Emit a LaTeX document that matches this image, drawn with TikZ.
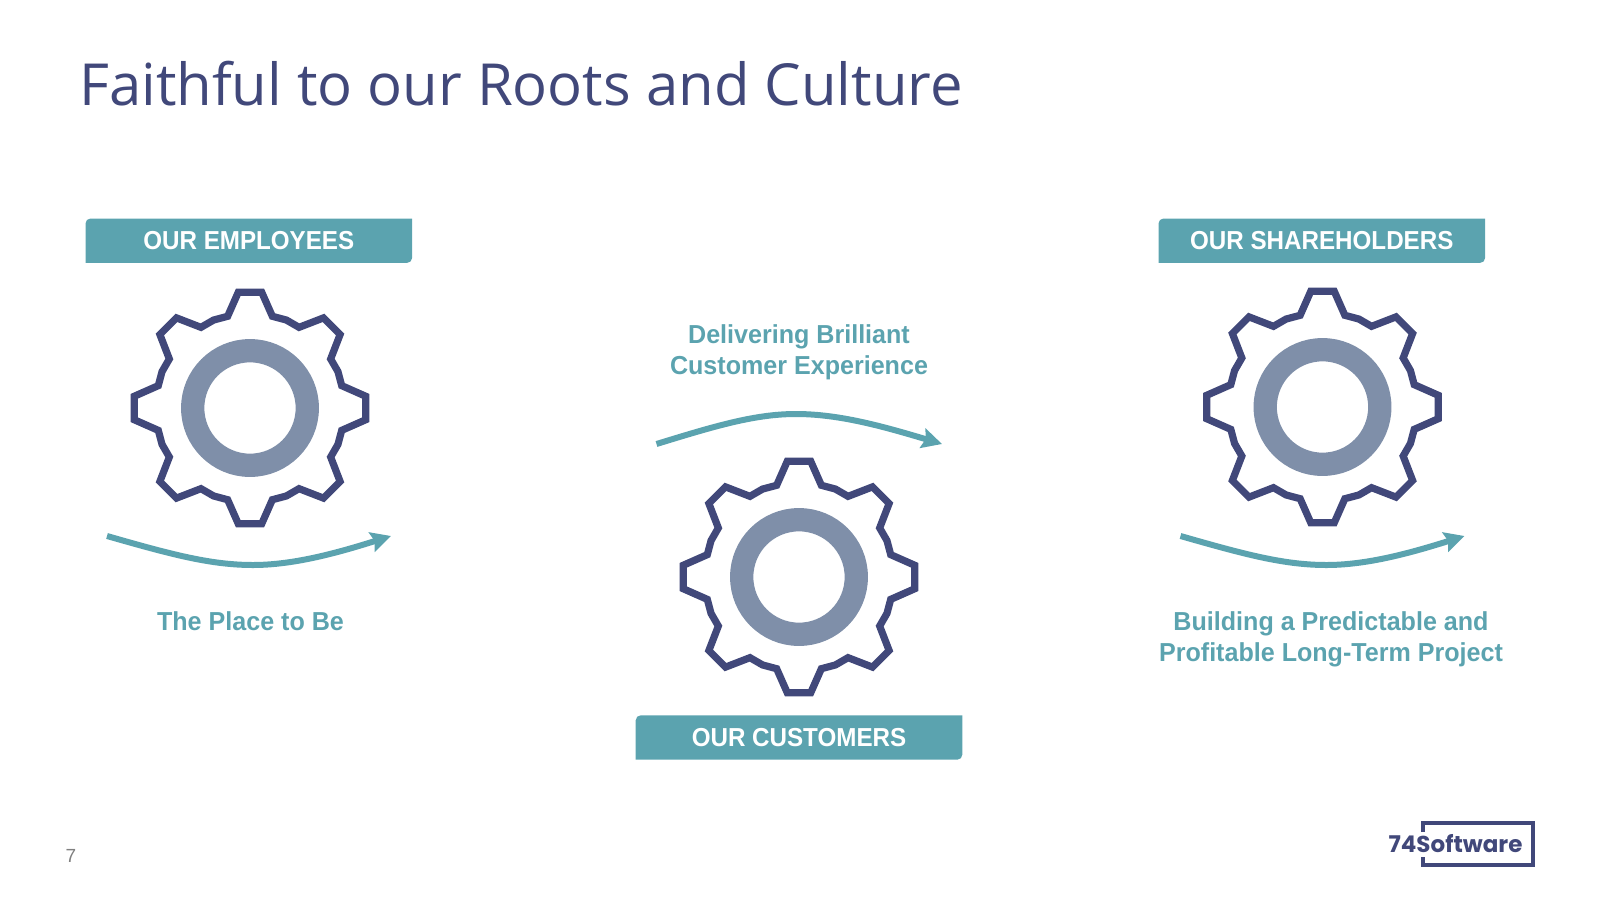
\documentclass[tikz,border=0pt]{standalone}
\usepackage{fontspec}
\setmainfont{Liberation Sans}
\newfontfamily\titlefont{Open Sans}
\newfontfamily\logofont{Poppins}
\newfontfamily\headfont[BoldFeatures={FakeStretch=0.93}]{Liberation Sans}
\newfontfamily\capfont[BoldFeatures={FakeStretch=0.965}]{Liberation Sans}
\usetikzlibrary{arrows.meta}
\definecolor{navy}{HTML}{41487A}
\definecolor{slate}{HTML}{7F8FA9}
\definecolor{tealish}{HTML}{5BA3AF}
\begin{document}
\begin{tikzpicture}[x=1pt, y=-1pt]
\tikzstyle{ring}=[draw=slate,circle,line width=23.3pt,minimum size=114.6pt,inner sep=0pt]
\tikzstyle{gearline}=[draw=navy,line width=7.2pt,miter limit=3]
\tikzstyle{banner}=[text=white,font=\fontsize{26}{30}\selectfont\headfont\bfseries]
\tikzstyle{caption}=[text=tealish,align=center,font=\fontsize{26}{31}\selectfont\capfont\bfseries]
\tikzstyle{flow}=[draw=tealish,line width=6pt,-{Stealth[length=20pt,width=20pt,inset=3pt]}]
  \useasboundingbox (0,0) rectangle (1600,900);
  \node[anchor=base west,inner sep=0pt,text=navy,font=\fontsize{58}{70}\selectfont\titlefont] (title) at (79,105.5) {Faithful to our Roots and Culture};
  % gears
  \foreach \place/\name in {{(250,408)/employees},
                            {(799,577)/customers},
                            {(1322.5,407)/shareholders}} {
    \node[ring] (\name) at \place {};
    \draw[gearline,shift={\place}] (-13.7:94.4)
      \foreach \a in {0,45,...,315} {
        -- (\a-13.7:94.4) -- (\a-5.8:116.3) -- (\a+5.8:116.3) -- (\a+13.7:94.4) -- (\a+22.5:95.2)
      } -- cycle;
  }
  % headers, top left and bottom right corners rounded
  \foreach \place/\name/\text in {{(248.8,240.7)/head1/OUR EMPLOYEES},
                                  {(799,737.5)/head2/OUR CUSTOMERS},
                                  {(1321.8,240.7)/head3/OUR SHAREHOLDERS}} {
    \fill[tealish,shift={\place}] (-163.3,22.2) [rounded corners=5pt] -- (-163.3,-22.2) [sharp corners]
      -- (163.3,-22.2) [rounded corners=5pt] -- (163.3,22.2) [sharp corners] -- cycle;
    \node[banner] (\name) at \place {\text};
  }
  % captions
  \node[caption] (cap1) at (250.5,621) {The Place to Be};
  \node[caption] (cap2) at (799,352.5) {Delivering Brilliant\\Customer Experience};
  \node[caption] (cap3) at (1331,639) {Building a Predictable and\\Profitable Long-Term Project};
  % arrows
  \foreach \sx/\name in {0/a,1073.5/c} {
    \coordinate (\name1) at (107+\sx,536);
    \coordinate (\name2) at (391+\sx,536);
    \draw[flow] (\name1) .. controls (170+\sx,554) and (210+\sx,565) .. (253+\sx,565)
      .. controls (295+\sx,565) and (340+\sx,552) .. (\name2);
  }
  \coordinate (b1) at (656.5,444);
  \coordinate (b2) at (942,444);
  \draw[flow] (b1) .. controls (715,426) and (755,414) .. (796,414)
    .. controls (840,414) and (885,427) .. (b2);
  % page number and logo
  \node[text=gray,font=\fontsize{19}{20}\selectfont] (page) at (71,856) {7};
  \draw[navy,line width=3.4pt] (1423,832) -- (1423,822.8) -- (1533,822.8) -- (1533,865) -- (1423,865) -- (1423,857);
  \node[text=navy,anchor=base,inner sep=0pt,font=\fontsize{23}{25}\selectfont\logofont\bfseries] (logo) at (1455.5,852) {74Software};
\end{tikzpicture}
\end{document}
